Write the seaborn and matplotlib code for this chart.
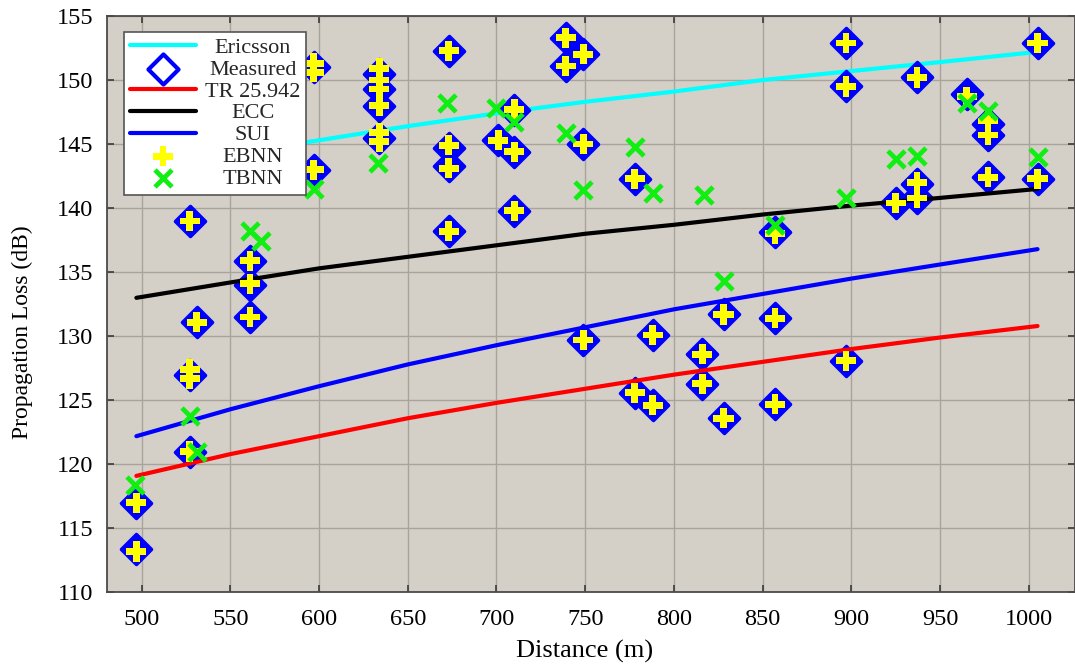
import matplotlib
matplotlib.use("Agg")
import matplotlib.pyplot as plt
import seaborn as sns
import pandas as pd

# ---------------- data ----------------
dist_model = [497, 550, 600, 650, 700, 750, 800, 850, 900, 950, 1005]
ericsson = [142.8, 144.2, 145.3, 146.4, 147.4, 148.3, 149.1, 150.0, 150.7, 151.4, 152.2]
tr25942 = [119.1, 120.8, 122.2, 123.6, 124.8, 125.9, 127.0, 128.0, 129.0, 129.9, 130.8]
ecc = [133.0, 134.2, 135.3, 136.2, 137.1, 138.0, 138.7, 139.5, 140.2, 140.8, 141.5]
sui = [122.2, 124.3, 126.1, 127.8, 129.3, 130.7, 132.1, 133.3, 134.5, 135.6, 136.8]

meas_x = [497, 497, 527, 527, 527, 531, 561, 561, 561, 597, 597, 634, 634, 634, 634,
          673, 673, 673, 673, 701, 710, 710, 710, 739, 739, 749, 749, 749, 778, 778,
          788, 788, 816, 816, 828, 828, 857, 857, 857, 897, 897, 897, 925, 937, 937,
          937, 965, 977, 977, 977, 1005, 1005]
meas_y = [113.4, 117.0, 121.0, 127.0, 139.0, 131.1, 131.5, 134.0, 135.9, 151.0, 143.0,
          150.5, 149.3, 148.0, 145.5, 152.3, 144.7, 143.3, 138.2, 145.3, 147.7, 144.4,
          139.8, 153.3, 151.1, 152.0, 145.0, 129.7, 142.3, 125.6, 130.1, 124.6, 128.6,
          126.3, 131.7, 123.6, 138.1, 131.4, 124.7, 152.9, 149.5, 128.1, 140.4, 150.2,
          141.9, 140.8, 148.9, 146.6, 145.7, 142.4, 152.9, 142.3]

ebnn_x = [497, 497, 527, 527, 527, 527, 531, 561, 561, 561, 597, 597, 597,
          634, 634, 634, 634, 634, 634, 673, 673, 673, 673, 701, 710, 710, 710,
          739, 739, 749, 749, 749, 778, 778, 788, 788, 816, 816, 828, 828,
          857, 857, 857, 897, 897, 897, 925, 937, 937, 937, 965, 977, 977, 977,
          1005, 1005]
ebnn_y = [113.2, 117.0, 121.0, 126.7, 127.4, 139.0, 131.1, 131.5, 134.1, 135.9,
          151.3, 150.6, 143.0, 150.9, 150.0, 149.3, 148.0, 145.9, 145.2,
          152.3, 144.9, 143.1, 138.2, 145.3, 147.7, 144.4, 139.8, 153.3, 151.1,
          152.0, 145.0, 129.7, 142.3, 125.6, 130.1, 124.6, 128.6, 126.3, 131.7,
          123.6, 138.0, 131.4, 124.7, 152.9, 149.5, 128.1, 140.4, 150.2, 142.0,
          140.8, 148.7, 146.8, 145.7, 142.4, 152.9, 142.3]

tbnn_x = [496, 527, 531, 561, 567, 597, 633, 672, 700, 710, 739, 749, 778, 788,
          817, 828, 857, 897, 925, 937, 965, 977, 1005]
tbnn_y = [118.4, 123.8, 121.0, 138.2, 137.4, 141.5, 143.5, 148.2, 147.8, 146.7,
          145.9, 141.4, 144.8, 141.2, 141.0, 134.3, 138.7, 140.8, 143.8, 144.1,
          148.2, 147.6, 144.0]

x_ticks = [500, 550, 600, 650, 700, 750, 800, 850, 900, 950, 1000]
y_ticks = [110, 115, 120, 125, 130, 135, 140, 145, 150, 155]

# ---------------- style ----------------
sns.set_theme(style="white")
plt.rcParams["font.family"] = ["Liberation Serif", "DejaVu Serif"]

fig = plt.figure(figsize=(10.75, 6.69), dpi=100)
ax = fig.add_axes([0.0993, 0.1144, 0.9005, 0.8617])
ax.set_facecolor("#d4d0c8")

models = pd.DataFrame({"d": dist_model, "Ericsson": ericsson, "TR 25.942": tr25942,
                       "ECC": ecc, "SUI": sui})
meas = pd.DataFrame({"d": meas_x, "pl": meas_y})
ebnn = pd.DataFrame({"d": ebnn_x, "pl": ebnn_y})
tbnn = pd.DataFrame({"d": tbnn_x, "pl": tbnn_y})

lw = 3.0
sns.lineplot(data=models, x="d", y="Ericsson", ax=ax, color="#00ffff", lw=lw,
             label="Ericsson", zorder=3)
sns.scatterplot(data=meas, x="d", y="pl", ax=ax, marker="D", s=235,
                facecolors="#0000ff", edgecolors="#0000ff", linewidth=2.5,
                label="Measured", zorder=4)
sns.lineplot(data=models, x="d", y="TR 25.942", ax=ax, color="#ff0000", lw=lw,
             label="TR 25.942", zorder=5)
sns.lineplot(data=models, x="d", y="ECC", ax=ax, color="#000000", lw=lw,
             label="ECC", zorder=5)
sns.lineplot(data=models, x="d", y="SUI", ax=ax, color="#0000ff", lw=lw,
             label="SUI", zorder=5)
sns.scatterplot(data=ebnn, x="d", y="pl", ax=ax, marker="P", s=210,
                color="#ffff00", edgecolor="none", linewidth=0,
                label="EBNN", zorder=6)
sns.scatterplot(data=tbnn, x="d", y="pl", ax=ax, marker="x", s=150,
                color="#11ee11", linewidth=3.4, label="TBNN", zorder=7)

ax.set_xlim(480.3, 1026)
ax.set_ylim(110, 155)
ax.set_xticks(x_ticks)
ax.set_yticks(y_ticks)
ax.grid(True, color="#a8a49c", lw=1.0)
ax.set_axisbelow(True)

for sp in ax.spines.values():
    sp.set_color("#4a4a4a")
    sp.set_linewidth(1.3)
    sp.set_visible(True)

ax.tick_params(axis="both", which="both", direction="in", length=5, width=1.2,
               color="#3a3a3a", top=True, right=True, labelsize=17.5,
               labelcolor="black", bottom=True, left=True)
ax.tick_params(axis="x", pad=12)
ax.tick_params(axis="y", pad=9.5)

ax.set_xlabel("Distance (m)", fontsize=19, color="black")
ax.set_ylabel("Propagation Loss (dB)", fontsize=17, color="black")
ax.xaxis.set_label_coords(0.494, -0.082)
ax.yaxis.set_label_coords(-0.076, 0.452)

# legend in the reference's order
handles, labels = ax.get_legend_handles_labels()
order = ["Ericsson", "Measured", "TR 25.942", "ECC", "SUI", "EBNN", "TBNN"]
hmap = dict(zip(labels, handles))
leg = ax.legend([hmap[k] for k in order], order, loc="upper left",
                bbox_to_anchor=(0.0179, 0.9728), borderaxespad=0,
                fontsize=16, frameon=True, fancybox=False, framealpha=1,
                edgecolor="#555555", facecolor="white", labelspacing=0.06,
                handlelength=3.0, handletextpad=0.4, borderpad=0.25)
leg.get_frame().set_linewidth(1.2)
leg.set_zorder(10)
# the legend shows the measured diamond hollow
mh = leg.legend_handles[1]
mh.set_facecolor("white")
mh.set_linewidth(3.0)

# centre the legend labels in their column (as in the reference)
fig.canvas.draw()
renderer = fig.canvas.get_renderer()
texts = leg.get_texts()
widths = [t.get_window_extent(renderer).width for t in texts]
maxw = max(widths)
for t, w in zip(texts, widths):
    t.set_position(((maxw - w) / 2.0, 0))

fig.savefig("out.png", dpi=100)
